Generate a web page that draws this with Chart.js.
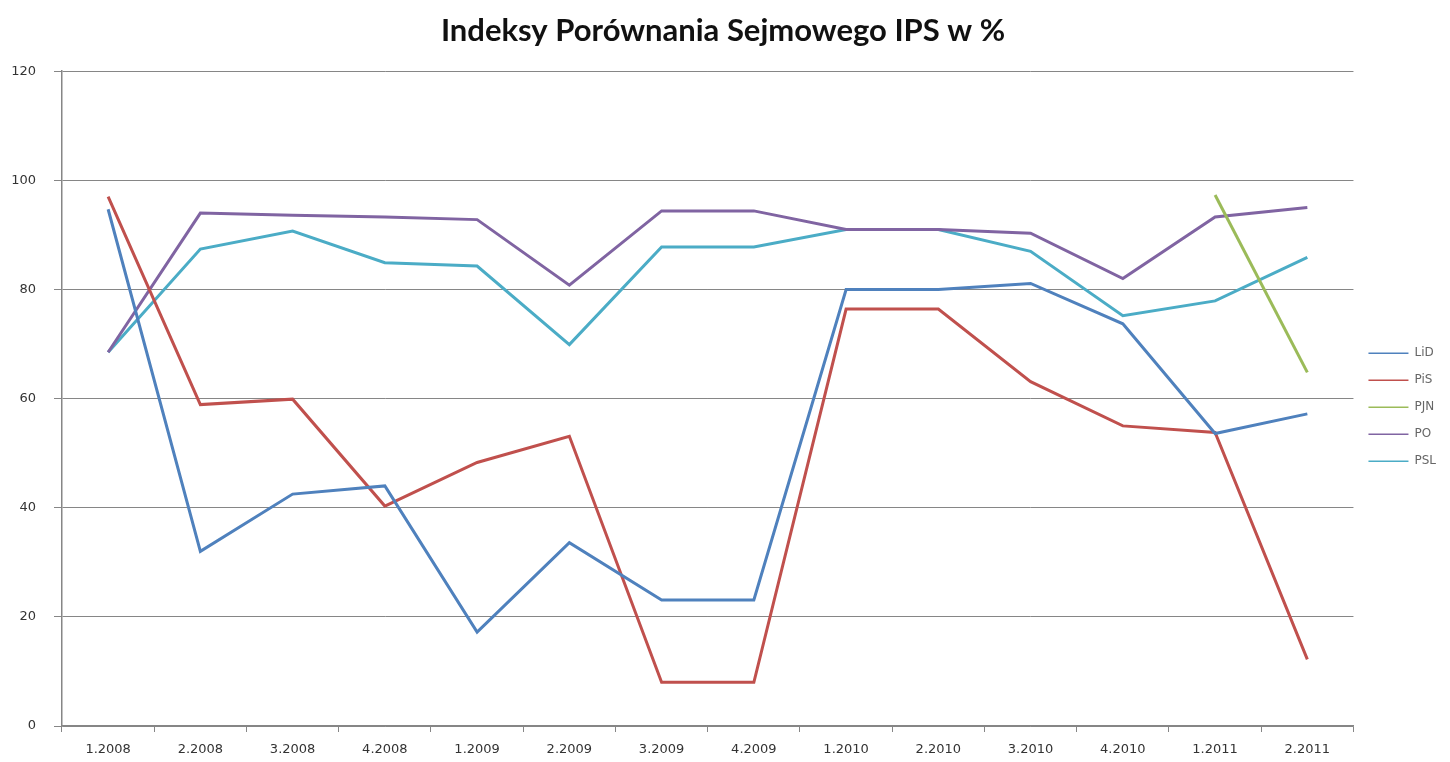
<!DOCTYPE html>
<html>
<head>
<meta charset="utf-8">
<script src="https://cdn.jsdelivr.net/npm/chart.js@4/dist/chart.umd.min.js"></script>
<style>
  html, body { margin: 0; padding: 0; background: #fff; }
  #wrap { width: 1450px; height: 762px; position: relative; }
</style>
</head>
<body>
<div id="wrap"><canvas id="chart"></canvas></div>
<script>
const LABELS = ['1.2008', '2.2008', '3.2008', '4.2008', '1.2009', '2.2009', '3.2009', '4.2009',
  '1.2010', '2.2010', '3.2010', '4.2010', '1.2011', '2.2011'];

const LID = [94.7, 32.0, 42.5, 44.0, 17.2, 33.6, 23.1, 23.1, 80.0, 80.0, 81.1, 73.7, 53.6, 57.2];
const PIS = [97.0, 58.9, 59.9, 40.3, 48.3, 53.1, 8.0, 8.0, 76.4, 76.4, 63.1, 55.0, 53.8, 12.2];
const PJN = [null, null, null, null, null, null, null, null, null, null, null, null, 97.3, 64.8];
const PO = [68.5, 94.0, 93.6, 93.3, 92.8, 80.8, 94.4, 94.4, 91.0, 91.0, 90.3, 82.0, 93.3, 95.0];
const PSL = [68.5, 87.4, 90.7, 84.9, 84.3, 69.9, 87.8, 87.8, 91.0, 91.0, 87.0, 75.2, 77.9, 85.9];

const Y_TICKS = [0, 20, 40, 60, 80, 100, 120];

const SERIES = [
  { label: 'LiD', data: LID, color: '#4F81BD' },
  { label: 'PiS', data: PIS, color: '#C0504D' },
  { label: 'PJN', data: PJN, color: '#9BBB59' },
  { label: 'PO', data: PO, color: '#8064A2' },
  { label: 'PSL', data: PSL, color: '#4BACC6' },
];

const axisColor = '#868686';
const tickFont = { family: 'DejaVu Sans', size: 13 };

new Chart(document.getElementById('chart'), {
  type: 'line',
  data: {
    labels: LABELS,
    datasets: SERIES.map((s) => ({
      label: s.label,
      data: s.data,
      borderColor: s.color,
      backgroundColor: s.color,
      borderWidth: 3,
      pointRadius: 0,
      tension: 0,
      spanGaps: false,
    })),
  },
  options: {
    responsive: true,
    maintainAspectRatio: false,
    animation: false,
    layout: { padding: { left: 0, right: 4, top: 10, bottom: 0 } },
    plugins: {
      title: {
        display: true,
        text: 'Indeksy Porównania Sejmowego IPS w %',
        color: '#111',
        font: { family: 'Lato', size: 31, weight: 'bold' },
        padding: { top: 2, bottom: 22 },
      },
      legend: {
        position: 'right',
        title: { display: true, text: '', padding: { top: 28, bottom: 0 } },
        labels: {
          usePointStyle: true,
          pointStyle: 'line',
          pointStyleWidth: 40,
          color: '#333',
          padding: 15,
          font: { family: 'DejaVu Sans', size: 12 },
          generateLabels: (chart) => chart.data.datasets.map((ds, i) => ({
            text: ds.label,
            strokeStyle: ds.borderColor,
            fillStyle: ds.borderColor,
            lineWidth: 1.5,
            pointStyle: 'line',
            datasetIndex: i,
            hidden: false,
          })),
        },
      },
      tooltip: { enabled: false },
    },
    scales: {
      x: {
        offset: true,
        afterFit: (s) => { s.height = 36; },
        grid: { offset: true, drawOnChartArea: false, drawTicks: true, tickLength: 6, color: axisColor },
        border: { color: axisColor, width: 1.5 },
        ticks: { color: '#333', font: tickFont, padding: 10, maxRotation: 0, autoSkip: false },
      },
      y: {
        min: 0,
        max: 120,
        afterFit: (s) => { s.width = 62; },
        afterBuildTicks: (axis) => { axis.ticks = Y_TICKS.map((v) => ({ value: v })); },
        grid: { color: axisColor, lineWidth: 1, tickLength: 8 },
        border: { color: axisColor, width: 1.5 },
        ticks: { color: '#333', font: tickFont, padding: 18 },
      },
    },
  },
});
</script>
</body>
</html>
